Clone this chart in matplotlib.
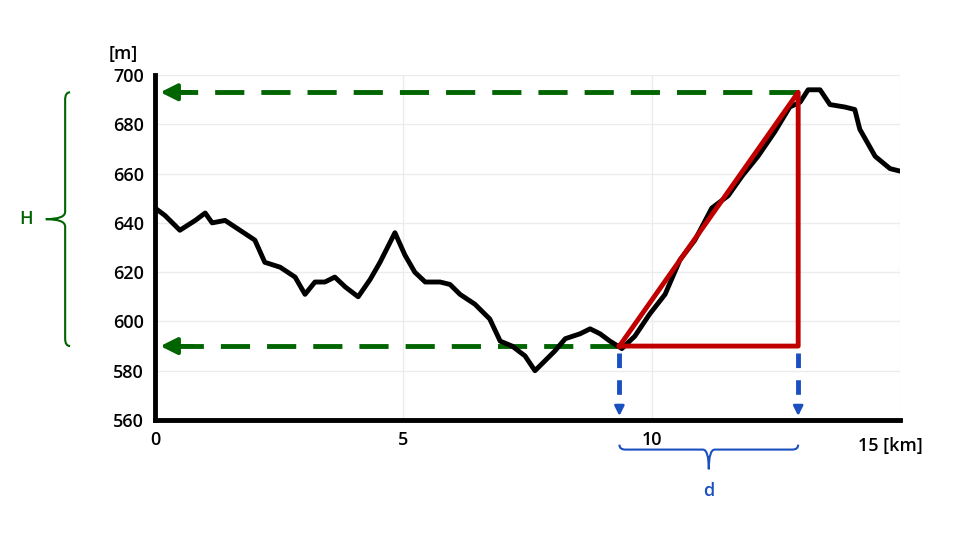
import matplotlib
matplotlib.use("Agg")
import matplotlib.pyplot as plt
import numpy as np
from matplotlib.path import Path
from matplotlib.patches import PathPatch

plt.rcParams['font.family'] = ['Open Sans', 'DejaVu Sans']
plt.rcParams['font.weight'] = 'semibold'

dist_km = [0.0, 0.2, 0.5, 0.81, 1.01, 1.15, 1.41, 1.71, 2.01, 2.21, 2.52, 2.82, 3.02, 3.22, 3.42, 3.62, 3.83, 4.09, 4.33, 4.53, 4.83, 5.03, 5.23, 5.44, 5.74, 5.94, 6.14, 6.44, 6.74, 6.95, 7.19, 7.45, 7.65, 7.85, 8.05, 8.26, 8.56, 8.76, 8.96, 9.16, 9.4, 9.66, 9.96, 10.27, 10.57, 10.87, 11.21, 11.54, 11.82, 12.14, 12.48, 12.78, 12.99, 13.15, 13.39, 13.59, 13.89, 14.09, 14.19, 14.5, 14.8, 15.0]
elev_m = [646, 643, 637, 641, 644, 640, 641, 637, 633, 624, 622, 618, 611, 616, 616, 618, 614, 610, 617, 624, 636, 627, 620, 616, 616, 615, 611, 607, 601, 592, 590, 586, 580, 584, 588, 593, 595, 597, 595, 592, 589, 594, 603, 611, 625, 633, 646, 651, 659, 667, 677, 687, 689, 694, 694, 688, 687, 686, 678, 667, 662, 661]

x_start, x_end = 9.35, 12.95
h_low, h_high = 590, 693
x_ticks = [0, 5, 10, 15]
x_tick_labels = ['0', '5', '10', '']
y_ticks = [560, 580, 600, 620, 640, 660, 680, 700]

green = '#006400'
red = '#c00000'
blue = '#1a4fc0'

fig = plt.figure(figsize=(9.6, 5.4), dpi=100)
ax = fig.add_axes([0.1615, 0.2222, 0.776, 0.6389])
ax.set_xlim(0, 15)
ax.set_ylim(560, 700)
ax.grid(True, color='#ececec', lw=1)
ax.set_axisbelow(True)
for s in ['top', 'right']:
    ax.spines[s].set_visible(False)
for s in ['left', 'bottom']:
    ax.spines[s].set_linewidth(3.5)
ax.tick_params(length=0, labelsize=13, pad=8)
ax.set_xticks(x_ticks)
ax.set_xticklabels(x_tick_labels)
ax.set_yticks(y_ticks)
ax.text(14.15, 553.3, '15 [km]', fontsize=13, ha='left', va='top')
ax.text(-0.35, 705, '[m]', fontsize=13, ha='right', va='bottom')

ax.plot(dist_km, elev_m, color='black', lw=3.5, solid_capstyle='round',
        solid_joinstyle='round', zorder=3)

# green dashed arrows
for xx, yy in [(x_end, h_high), (x_start, h_low)]:
    ax.plot([xx, 0.5], [yy, yy], color=green, lw=3.5, dashes=(6, 3.5), zorder=2)
    ax.annotate('', xy=(0.05, yy), xytext=(0.8, yy),
                arrowprops=dict(arrowstyle='-|>', color=green, lw=3, mutation_scale=25), zorder=4)

# red triangle
ax.plot([x_start, x_end, x_end, x_start], [h_low, h_high, h_low, h_low], color=red, lw=3.5, zorder=4)

# blue dashed arrows
for xx in [x_start, x_end]:
    ax.plot([xx, xx], [587, 566], color=blue, lw=3.5, dashes=(3, 2.5), clip_on=False, zorder=5)
    ax.annotate('', xy=(xx, 560.5), xytext=(xx, 566),
                arrowprops=dict(arrowstyle='-|>', color=blue, lw=2, mutation_scale=14),
                annotation_clip=False, zorder=5)

def brace(ax, pts, color):
    codes = [Path.MOVETO] + [Path.CURVE3, Path.CURVE3, Path.LINETO, Path.CURVE3, Path.CURVE3,
                             Path.CURVE3, Path.CURVE3, Path.LINETO, Path.CURVE3, Path.CURVE3]
    ax.add_patch(PathPatch(Path(pts, codes), fill=False, ec=color, lw=1.5, clip_on=False))

# left brace (vertical)
x0, a, ry = -1.81, 0.1, 3.0
ym = (h_low + h_high) / 2
tip = -2.2
brace(ax, [(x0 + a, h_high), (x0, h_high), (x0, h_high - ry), (x0, ym + ry), (x0, ym), (tip, ym),
           (x0, ym), (x0, ym - ry), (x0, h_low + ry), (x0, h_low), (x0 + a, h_low)], green)
ax.text(-2.45, ym, 'H', color=green, fontsize=13, ha='right', va='center')

# bottom brace (horizontal)
y0, b, rx = 548.0, 2.0, 0.12
xm = (x_start + x_end) / 2
tipy = 540
brace(ax, [(x_start, y0 + b), (x_start, y0), (x_start + rx, y0), (xm - rx, y0),
           (xm, y0), (xm, tipy), (xm, y0), (xm + rx, y0), (x_end - rx, y0),
           (x_end, y0), (x_end, y0 + b)], blue)
ax.text(xm, 535, 'd', color=blue, fontsize=13, ha='center', va='top')

fig.savefig('out.png', dpi=100)
